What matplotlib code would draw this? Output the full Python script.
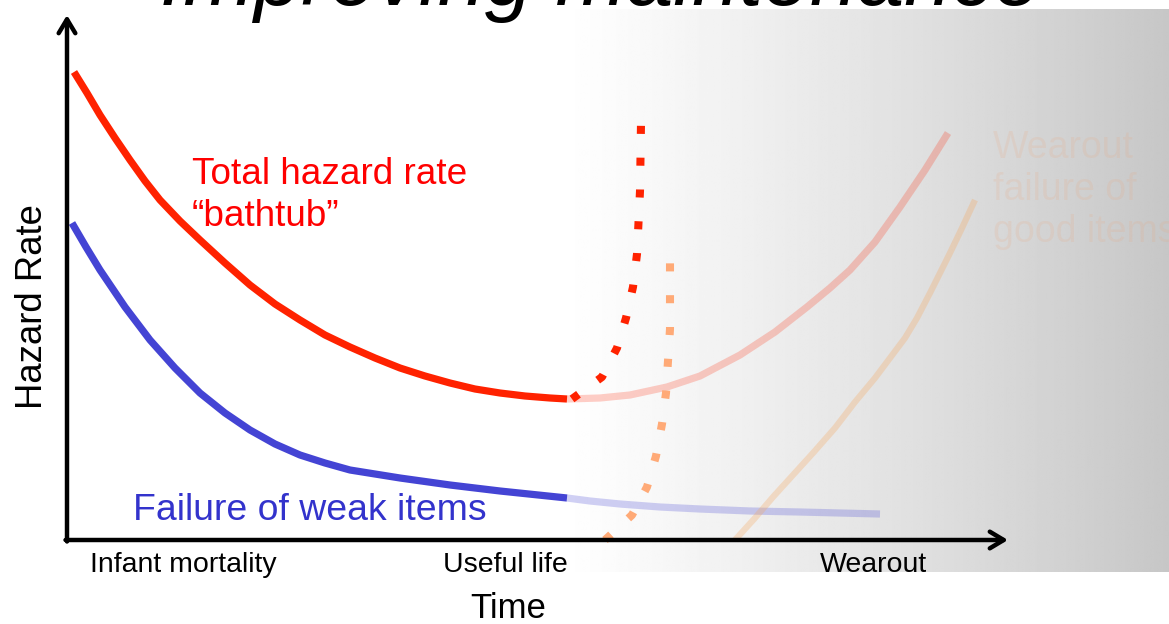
import matplotlib
matplotlib.use("agg")
import matplotlib.pyplot as plt
import numpy as np

plt.rcParams['font.family'] = ['Liberation Sans', 'DejaVu Sans']

# time / hazard values (arbitrary units, origin at the axis corner)
bathtub_t = [7, 20, 33, 48, 63, 78, 93, 113, 133, 158, 183, 208, 233, 258, 283,
             308, 333, 358, 383, 408, 433, 458, 483, 500]
bathtub_h = [468, 447, 425, 402, 380, 359, 340, 319, 300, 277, 255, 236, 220, 205,
             193, 182, 172, 164, 157, 151, 147, 144, 142, 141]

bathtub_late_t = [500, 533, 563, 600, 633, 673, 708, 740, 763, 783, 808, 833, 858, 881]
bathtub_late_h = [141, 142, 145, 153, 164, 185, 208, 233, 252, 270, 298, 333, 370, 407]

improved_t = [505, 535, 550, 559, 566, 570, 573, 574]
improved_h = [141, 163, 192, 222, 253, 286, 349, 417]

wear_improved_t = [538, 565, 580, 589, 595, 599, 601, 603, 603]
wear_improved_h = [0, 25, 53, 84, 116, 147, 179, 211, 279]

weak_t = [5, 19, 33, 58, 83, 108, 133, 158, 183, 208, 233, 258, 283, 308, 333,
          383, 433, 500]
weak_h = [317, 293, 270, 233, 200, 172, 147, 127, 110, 96, 85, 77, 70, 66, 62,
          55, 49, 42]

weak_late_t = [500, 523, 553, 593, 633, 683, 733, 813]
weak_late_h = [42, 39, 36, 33, 31, 29, 28, 26]

wearout_t = [668, 688, 706, 726, 746, 768, 788, 808, 823, 838, 850, 863, 883, 895, 908]
wearout_h = [0, 22, 43, 65, 87, 112, 138, 162, 182, 202, 222, 247, 287, 312, 340]

phases = ['Infant mortality', 'Useful life', 'Wearout']
phase_t = [116, 438, 806]

fig = plt.figure(figsize=(11.69, 6.24), dpi=100)
ax = fig.add_axes([0, 0, 1, 1])
ax.set_xlim(-67, 1102)
ax.set_ylim(-84, 540)
ax.axis('off')

# grey fade on the right half
grad = np.linspace(0, 1, 256) ** 1.1
grad = 1 - 0.22 * grad
ax.imshow(np.tile(grad, (2, 1)), cmap='gray', vmin=0, vmax=1, aspect='auto',
          extent=[493, 1102, -32, 531], zorder=0, interpolation='bilinear')

red = '#ff2200'
blue = '#4444d4'
line = dict(lw=5.2, solid_capstyle='butt', solid_joinstyle='round')

ax.plot(bathtub_t, bathtub_h, color=red, zorder=3, **line)
ax.plot(bathtub_late_t, bathtub_late_h, color=red, alpha=0.22, zorder=2, **line)
ax.plot(weak_t, weak_h, color=blue, zorder=3, **line)
ax.plot(weak_late_t, weak_late_h, color=blue, alpha=0.25, zorder=2, **line)
ax.plot(wearout_t, wearout_h, color='#f5a860', alpha=0.3, lw=4.5,
        solid_capstyle='butt', solid_joinstyle='round', zorder=2)
ax.plot(improved_t, improved_h, color=red, lw=5.8, ls=(0, (1, 2.95)),
        dash_capstyle='butt', zorder=4)
ax.plot(wear_improved_t, wear_improved_h, color='#ffaa77', lw=5.8, ls=(0, (1, 2.95)),
        dash_capstyle='butt', zorder=4)

# axes arrows
arrow = dict(arrowstyle='->,head_length=1.0,head_width=0.6', lw=3.2, color='black',
             shrinkA=0, shrinkB=0)
ax.annotate('', xy=(0, 525), xytext=(0, -1.5), arrowprops=arrow, zorder=5)
ax.annotate('', xy=(941, 0), xytext=(-1.5, 0), arrowprops=arrow, zorder=5)

ax.text(-34, 233, 'Hazard Rate', rotation=90, ha='center', va='center', fontsize=26.3)
ax.text(441, -69, 'Time', ha='center', va='center', fontsize=25)
for name, t in zip(phases, phase_t):
    ax.text(t, -25, name, ha='center', va='center', fontsize=20.5)

ax.text(125, 365, 'Total hazard rate', color='#ff0000', fontsize=26.6, va='center')
ax.text(125, 323, '\u201cbathtub\u201d', color='#ff0000', fontsize=26.6, va='center')
ax.text(66, 30, 'Failure of weak items', color='#3333cc', fontsize=26.9, va='center')
ax.text(926, 350, 'Wearout\nfailure of\ngood items', color='#f0a070', alpha=0.15,
        fontsize=27, va='center', linespacing=1.2)

ax.text(533, 535, 'Improving maintenance', style='italic', fontsize=61,
        ha='center', va='baseline', zorder=6)

fig.savefig('out.png', dpi=100)
